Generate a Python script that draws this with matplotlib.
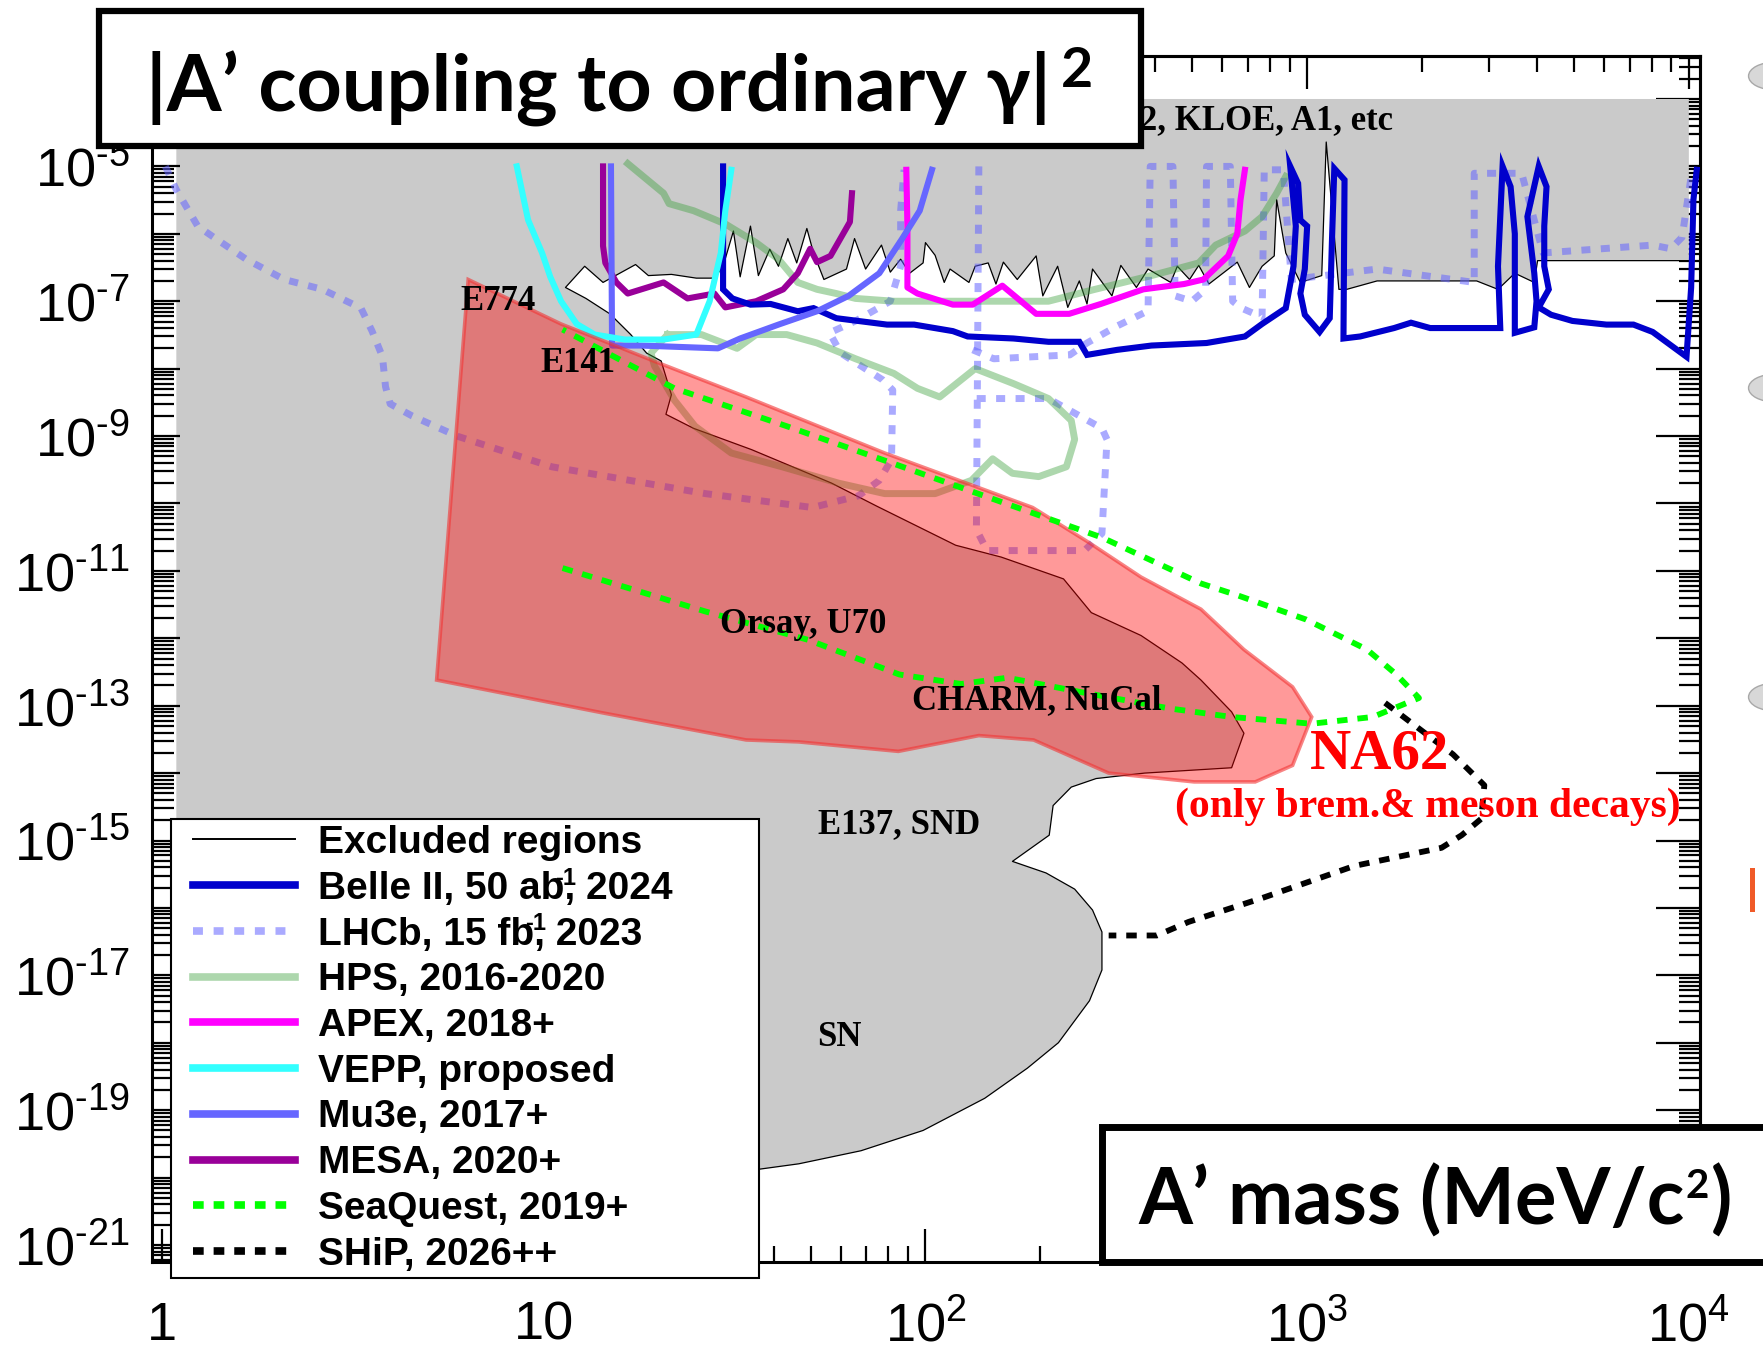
import numpy as np
import matplotlib
matplotlib.use("Agg")
import matplotlib.pyplot as plt
from matplotlib.lines import Line2D
from matplotlib.patches import Rectangle, Ellipse
from matplotlib.text import Annotation
from matplotlib.font_manager import FontProperties
from matplotlib.ticker import (FixedLocator, FixedFormatter, LogLocator,
                               FuncFormatter, NullFormatter)

SANS = ['Liberation Sans', 'DejaVu Sans']
SERIF = ['Liberation Serif', 'DejaVu Serif']
SLIDE = ['Lato', 'DejaVu Sans']
plt.rcParams['font.family'] = SANS

# ---------------------------------------------------------------- data
# (mass [MeV], eps^2) pairs

# lower edge of the already excluded (grey) area, right to left then down
excluded_edge = [
    (1.0e4, 4.0e-7), (4015, 4.0e-7), (3936, 1.9e-7), (3500, 2.6e-7), (3162, 1.5e-7),
    (2780, 2.0e-7), (1525, 2.0e-7), (1270, 1.5e-7), (1211, 1.5e-7), (1122, 2.3e-5),
    (1092, 2.4e-7), (960, 1.9e-7), (879, 5.2e-7), (832, 3.2e-6), (820, 4.7e-7),
    (762, 3.3e-7), (706, 1.6e-7), (656, 3.8e-7), (553, 1.8e-7), (520, 3.4e-7),
    (492, 2.1e-7), (457, 3.3e-7), (439, 1.9e-7), (383, 3.0e-7), (357, 1.6e-7),
    (325, 3.4e-7), (308, 1.2e-7), (274, 3.0e-7), (265, 9.1e-8), (253, 2.0e-7),
    (236, 8.1e-8), (222, 3.3e-7), (203, 1.2e-7), (195, 4.7e-7), (174, 2.1e-7),
    (160, 3.8e-7), (153, 1.8e-7), (146, 3.7e-7), (135, 3.3e-7), (130, 1.9e-7),
    (116, 3.0e-7), (112, 1.9e-7), (106, 4.8e-7), (100, 7.4e-7), (98.6, 3.7e-7),
    (90.9, 2.6e-7), (86.1, 4.2e-7), (80.9, 2.7e-7), (76.7, 6.8e-7), (69.7, 3.0e-7),
    (65.2, 8.5e-7), (62.1, 3.0e-7), (54.2, 2.1e-7), (50.9, 5.2e-7), (48.9, 1.2e-6),
    (46.0, 3.7e-7), (43.6, 8.5e-7), (41.2, 3.3e-7), (39.1, 5.9e-7), (36.5, 2.4e-7),
    (34.8, 1.3e-6), (32.7, 2.3e-7), (31.4, 1.1e-6), (29.5, 3.3e-7), (28.0, 2.2e-7),
    (25.1, 2.2e-7), (21.6, 2.5e-7), (18.8, 2.4e-7), (17.4, 3.5e-7), (14.3, 1.9e-7),
    (12.8, 3.3e-7), (11.4, 1.6e-7), (12.9, 1.1e-7), (14.9, 6.5e-8), (16.9, 3.2e-8),
    (18.6, 1.7e-8), (20.3, 1.3e-8), (21.6, 4.1e-9), (20.9, 2.1e-9), (24.7, 1.3e-9),
    (35.0, 6.3e-10), (56.8, 2.0e-10), (74.6, 9.1e-11), (120, 2.4e-11), (158, 1.6e-11),
    (230, 7.6e-12), (272, 2.4e-12), (367, 1.1e-12), (470, 4.3e-13), (527, 2.4e-13),
    (634, 8.1e-14), (683, 3.9e-14), (634, 1.2e-14), (375, 1.0e-14), (280, 8.3e-15),
    (241, 6.2e-15), (216, 3.3e-15), (211, 1.2e-15), (169, 4.9e-16), (207, 3.3e-16),
    (246, 1.9e-16), (274, 9.3e-17), (290, 4.4e-17), (290, 1.2e-17), (269, 4.2e-18),
    (223, 1.0e-18), (185, 4.2e-19), (143, 1.5e-19), (98.6, 5.0e-20), (67.8, 2.5e-20),
    (46.6, 1.6e-20), (28.7, 1.1e-20), (11.1, 4.2e-21), (2.84, 1.6e-21),
]
excl_left, excl_right = 1.09, 1.0e4
excl_top, excl_floor = 1.0e-4, 5.6e-22

belle = [
    (29.5, 1.0e-5), (29.5, 1.5e-7), (31.2, 1.1e-7), (34.8, 8.9e-8), (39.3, 9.1e-8),
    (46.3, 7.1e-8), (50.9, 7.9e-8), (58.4, 5.6e-8), (79.3, 4.5e-8), (93.4, 4.5e-8),
    (118, 3.6e-8), (129, 3.0e-8), (170, 2.8e-8), (210, 2.5e-8), (253, 2.5e-8),
    (265, 1.6e-8), (318, 1.9e-8), (391, 2.2e-8), (545, 2.4e-8), (687, 3.0e-8),
    (762, 4.6e-8), (879, 7.9e-8), (921, 3.3e-7), (934, 1.3e-6), (903, 1.0e-5),
    (947, 5.6e-6), (960, 1.6e-6), (1000, 1.3e-6), (986, 3.0e-7), (960, 1.3e-7),
    (986, 6.3e-8), (1078, 3.5e-8), (1146, 5.6e-8), (1161, 7.4e-7), (1178, 9.3e-6),
    (1253, 6.3e-6), (1245, 2.8e-8), (1377, 3.0e-8), (1690, 4.0e-8), (1871, 4.8e-8),
    (2100, 4.0e-8), (3206, 4.0e-8), (3162, 3.3e-7), (3251, 1.0e-5), (3412, 5.0e-6),
    (3500, 1.0e-6), (3500, 3.4e-8), (3936, 4.1e-8), (3990, 1.0e-7), (3936, 2.6e-7),
    (3776, 1.8e-6), (4043, 1.0e-5), (4238, 5.0e-6), (4180, 1.3e-6), (4180, 3.3e-7),
    (4296, 1.5e-7), (4043, 8.1e-8), (4355, 6.3e-8), (4955, 5.1e-8), (6081, 4.5e-8),
    (7160, 4.5e-8), (8040, 3.5e-8), (9860, 1.5e-8), (10140, 1.6e-7), (10280, 3.2e-6),
    (10490, 8.9e-6),
]

lhcb_prompt = [
    (1.02, 1.0e-5), (1.09, 4.5e-6), (1.24, 1.3e-6), (1.35, 9.3e-7), (1.66, 4.2e-7),
    (2.09, 2.1e-7), (2.63, 1.5e-7), (3.32, 7.9e-8), (3.55, 3.6e-8), (3.78, 1.5e-8),
    (3.85, 5.4e-9), (3.96, 3.0e-9), (4.51, 2.0e-9), (5.92, 1.0e-9), (10.5, 3.5e-10),
    (26.5, 1.4e-10), (50.6, 8.7e-11), (66.8, 1.3e-10), (75.7, 2.2e-10), (81.5, 4.5e-10),
    (82.1, 4.8e-9), (77.3, 6.8e-9), (60.0, 1.7e-8), (56.1, 3.4e-8), (65.6, 5.1e-8),
    (80.9, 1.0e-7), (86.1, 3.3e-7), (86.1, 2.2e-6), (87.9, 8.9e-6),
]
lhcb_displaced = [
    (138, 1.0e-5), (136, 4.1e-11), (145, 2.0e-11), (261, 2.0e-11), (290, 3.6e-11),
    (299, 8.9e-10), (290, 1.3e-9), (210, 3.6e-9), (173, 3.6e-9), (136, 3.6e-9),
]
lhcb_heavy = [
    (133, 1.9e-8), (151, 1.4e-8), (239, 1.6e-8), (265, 2.4e-8), (318, 4.3e-8),
    (383, 7.2e-8), (388, 1.0e-5), (445, 1.0e-5), (451, 1.2e-7), (499, 1.0e-7),
    (542, 1.5e-7), (545, 1.0e-5), (629, 1.0e-5), (638, 1.0e-7), (673, 7.9e-8),
    (762, 5.8e-8), (772, 8.9e-6), (866, 8.9e-6), (909, 2.1e-7), (1525, 3.0e-7),
    (2740, 1.9e-7), (2740, 7.9e-6), (3648, 7.9e-6), (4150, 5.2e-7), (8040, 6.8e-7),
    (8970, 6.0e-7), (9600, 8.9e-7), (10140, 7.1e-6),
]

hps_prompt = [
    (16.6, 1.1e-5), (20.6, 4.0e-6), (21.3, 2.8e-6), (24.7, 2.2e-6), (29.9, 1.4e-6),
    (36.0, 7.4e-7), (41.2, 4.2e-7), (46.3, 1.9e-7), (52.0, 1.5e-7), (58.4, 1.3e-7),
    (65.6, 1.1e-7), (82.6, 1.0e-7), (132, 1.0e-7), (210, 1.0e-7), (278, 1.5e-7),
    (391, 2.4e-7), (520, 3.7e-7), (576, 6.8e-7), (687, 1.1e-6), (762, 1.8e-6),
    (832, 4.0e-6), (879, 7.1e-6),
]
hps_vertex = [
    (21.1, 3.2e-8), (25.9, 3.2e-8), (32.1, 2.0e-8), (36.0, 3.2e-8), (43.3, 3.2e-8),
    (52.0, 2.4e-8), (65.6, 1.4e-8), (82.6, 8.5e-9), (95.3, 5.1e-9), (109, 3.8e-9),
    (135, 1.0e-8), (170, 6.0e-9), (210, 3.6e-9), (241, 1.7e-9), (246, 8.9e-10),
    (234, 3.5e-10), (198, 2.5e-10), (169, 2.8e-10), (150, 4.6e-10), (132, 2.2e-10),
    (106, 1.4e-10), (78.2, 1.4e-10), (59.2, 2.0e-10), (42.1, 3.5e-10), (31.0, 5.6e-10),
    (24.9, 1.4e-9), (22.0, 3.4e-9), (19.5, 1.1e-8), (19.1, 1.7e-8), (21.1, 3.2e-8),
]

apex = [
    (89.1, 8.9e-6), (89.7, 1.3e-6), (89.7, 1.6e-7), (95.3, 1.3e-7), (118, 8.9e-8),
    (133, 8.9e-8), (159, 1.7e-7), (195, 6.5e-8), (238, 6.5e-8), (288, 9.1e-8),
    (372, 1.5e-7), (476, 1.8e-7), (535, 2.1e-7), (621, 4.7e-7), (656, 1.0e-6),
    (669, 3.2e-6), (687, 8.9e-6),
]

vepp = [
    (8.5, 1.0e-5), (9.1, 1.6e-6), (9.9, 5.2e-7), (10.4, 2.3e-7), (11.1, 1.0e-7),
    (12.2, 4.6e-8), (13.6, 3.2e-8), (16.3, 2.7e-8), (20.6, 2.7e-8), (25.1, 3.2e-8),
    (27.2, 1.0e-7), (29.1, 5.2e-7), (29.9, 2.2e-6), (31.0, 8.9e-6),
]

mu3e = [
    (15.0, 1.0e-5), (15.1, 2.2e-8), (18.0, 2.2e-8), (28.6, 2.0e-8), (32.7, 2.8e-8),
    (41.2, 4.5e-8), (52.0, 7.1e-8), (62.9, 1.2e-7), (75.7, 2.6e-7), (86.7, 8.3e-7),
    (96.6, 2.2e-6), (104, 8.9e-6),
]

mesa = [
    (14.3, 1.0e-5), (14.3, 6.6e-7), (14.5, 3.7e-7), (15.5, 1.9e-7), (16.6, 1.3e-7),
    (20.6, 1.9e-7), (23.8, 1.1e-7), (28.0, 1.3e-7), (29.9, 8.1e-8), (36.0, 1.0e-7),
    (42.4, 1.5e-7), (46.3, 2.6e-7), (49.9, 6.0e-7), (52.0, 3.8e-7), (56.4, 4.7e-7),
    (63.4, 1.5e-6), (64.2, 4.0e-6),
]

seaquest = [
    (11.2, 1.1e-11), (26.5, 2.5e-12), (49.2, 9.5e-13), (85.5, 2.9e-13), (124, 2.1e-13),
    (164, 2.6e-13), (254, 1.6e-13), (436, 9.1e-14), (634, 6.8e-14), (1028, 5.4e-14),
    (1485, 6.8e-14), (1963, 1.3e-13), (1713, 2.9e-13), (1435, 6.8e-13), (993, 1.9e-12),
    (660, 4.3e-12), (527, 6.5e-12), (291, 3.1e-11), (191, 7.2e-11), (80.4, 4.1e-10),
    (43.3, 1.4e-9), (22.0, 5.1e-9), (11.2, 3.8e-8),
]

ship = [
    (1600, 1.1e-13), (2410, 1.9e-14), (2912, 6.6e-15), (2858, 2.1e-15), (2541, 1.2e-15),
    (2250, 7.8e-16), (1330, 4.2e-16), (762, 1.4e-16), (489, 6.2e-17), (404, 3.9e-17),
    (302, 3.9e-17),
]

na62 = [
    (6.34, 2.1e-7), (11.1, 4.6e-8), (19.4, 1.3e-8), (33.9, 3.8e-9), (78.2, 5.6e-10),
    (191, 8.7e-11), (269, 2.6e-11), (367, 8.1e-12), (527, 2.7e-12), (683, 6.8e-13),
    (916, 1.9e-13), (1028, 6.8e-14), (916, 1.3e-14), (731, 7.4e-15), (506, 7.4e-15),
    (302, 1.0e-14), (192, 3.1e-14), (138, 3.6e-14), (84.9, 2.1e-14), (46.6, 2.9e-14),
    (33.9, 3.1e-14), (14.3, 7.8e-14), (5.24, 2.4e-13),
]

# experiment labels: (text, mass, eps^2)
region_labels = [
    ("E774", 7.6, 1.0e-7),
    ("E141", 12.3, 1.2e-8),
    ("Orsay, U70", 47.9, 1.6e-12),
    ("CHARM, NuCal", 196, 1.2e-13),
    ("E137, SND", 85.5, 1.7e-15),
    ("SN", 59.6, 1.2e-18),
]

legend_labels = [
    "Excluded regions", "Belle II, 50 ab, 2024", "LHCb, 15 fb, 2023",
    "HPS, 2016-2020", "APEX, 2018+", "VEPP, proposed", "Mu3e, 2017+",
    "MESA, 2020+", "SeaQuest, 2019+", "SHiP, 2026++",
]
# inverse-luminosity units: (legend row, text before the exponent)
lumi_units = [(1, "Belle II, 50 ab"), (2, "LHCb, 15 fb")]

x_major = [1, 10, 100, 1000, 10000]
x_labels = ['1', '10', r'$\mathregular{10^{2}}$', r'$\mathregular{10^{3}}$',
            r'$\mathregular{10^{4}}$']
y_major_exp = list(range(-22, -3))
y_label_exp = [-5, -7, -9, -11, -13, -15, -17, -19, -21]

# colours
C_BELLE = '#0000cc'
C_LHCB = '#6464ff'
C_HPS = (0.24, 0.63, 0.24)
C_APEX = '#ff00ff'
C_VEPP = '#33ffff'
C_MU3E = '#6666ff'
C_MESA = '#990099'
C_SEAQ = '#00ff00'

# ---------------------------------------------------------------- figure
fig = plt.figure(figsize=(17.63, 13.53), dpi=100)
ax = fig.add_axes([0.0861, 0.0673, 0.8782, 0.8911])
ax.set_xscale('log')
ax.set_yscale('log')
ax.set_xlim(0.94, 10700)
ax.set_ylim(5.6e-22, 4.3e-4)


def unzip(pts):
    m, e = zip(*pts)
    return list(m), list(e)


def curve(pts, **kw):
    m, e = unzip(pts)
    return ax.plot(m, e, **kw)[0]


# excluded area
em, ee = unzip(excluded_edge)
ax.fill(em + [excl_left, excl_left, excl_right],
        ee + [excl_floor, excl_top, excl_top],
        color='#cacaca', lw=0, zorder=1)
ax.plot(em, ee, color='black', lw=0.9, zorder=2)

LW = 4.4
lhcb_kw = dict(color=C_LHCB, alpha=0.55, lw=5.0, linestyle=(0, (1.3, 1.5)),
               dash_capstyle='butt', zorder=3)
for piece in (lhcb_prompt, lhcb_displaced, lhcb_heavy):
    curve(piece, **lhcb_kw)
hps_kw = dict(color=C_HPS, alpha=0.42, lw=5.0, solid_joinstyle='round', zorder=3)
curve(hps_prompt, **hps_kw)
curve(hps_vertex, **hps_kw)
curve(belle, color=C_BELLE, lw=LW, solid_joinstyle='miter', zorder=3.5)
curve(apex, color=C_APEX, lw=LW, zorder=3.4)
curve(mesa, color=C_MESA, lw=LW, zorder=3.4)
curve(mu3e, color=C_MU3E, lw=LW, zorder=3.5)
curve(vepp, color=C_VEPP, lw=LW, zorder=3.6)

# NA62 projection
nm, ne = unzip(na62)
ax.fill(nm, ne, facecolor=(1, 0, 0, 0.4), edgecolor=(0.95, 0.2, 0.2, 0.6),
        lw=2.6, zorder=4)

dot_kw = dict(lw=4.2, linestyle=(0, (1.8, 1.7)), dash_capstyle='butt', zorder=5)
curve(seaquest, color=C_SEAQ, **dot_kw)
curve(ship, color='black', **dot_kw)

for txt, m, e in region_labels:
    ax.text(m, e, txt, family=SERIF, weight='bold', size=25, ha='center',
            va='center', zorder=6)
ax.text(1679, 4.7e-5, "g-2, KLOE, A1, etc", family=SERIF, weight='bold', size=25,
        ha='right', va='center', zorder=6)
ax.text(1546, 1.9e-14, "NA62", family=SERIF, weight='bold', size=41,
        color='#ff0000', ha='center', va='center', zorder=6)
ax.text(2074, 3.2e-15, "(only brem.& meson decays)", family=SERIF, weight='bold',
        size=30, color='#ff0000', ha='center', va='center', zorder=6)

# ---------------------------------------------------------------- axes
for s in ax.spines.values():
    s.set_linewidth(2.2)
minor_subs = np.arange(2, 10)
ax.xaxis.set_major_locator(FixedLocator(x_major))
ax.xaxis.set_minor_locator(LogLocator(base=10, subs=minor_subs, numticks=50))
ax.xaxis.set_major_formatter(FixedFormatter(x_labels))
ax.xaxis.set_minor_formatter(NullFormatter())
ax.yaxis.set_major_locator(FixedLocator([10.0 ** k for k in y_major_exp]))
ax.yaxis.set_minor_locator(LogLocator(base=10, subs=minor_subs, numticks=200))


def y_fmt(v, pos):
    k = int(round(np.log10(v)))
    if k in y_label_exp:
        return '$\\mathregular{10^{\u2010%d}}$' % (-k)
    return ''


ax.yaxis.set_major_formatter(FuncFormatter(y_fmt))
ax.yaxis.set_minor_formatter(NullFormatter())
ax.tick_params(which='both', direction='in', width=1.6, top=False, right=False)
ax.tick_params(axis='x', which='major', length=24, pad=28, labelsize=39)
ax.tick_params(axis='x', which='minor', length=11.5)
ax.tick_params(axis='y', which='major', length=20, pad=16, labelsize=39)
ax.tick_params(axis='y', which='minor', length=16)

secx = ax.secondary_xaxis('top')
secx.xaxis.set_major_locator(FixedLocator(x_major))
secx.xaxis.set_minor_locator(LogLocator(base=10, subs=minor_subs, numticks=50))
secx.xaxis.set_major_formatter(NullFormatter())
secx.xaxis.set_minor_formatter(NullFormatter())
secx.tick_params(which='both', direction='in', width=1.6, labeltop=False)
secx.tick_params(which='major', length=24)
secx.tick_params(which='minor', length=11.5)
secx.spines['top'].set_linewidth(2.2)

secy = ax.secondary_yaxis('right')
secy.yaxis.set_major_locator(FixedLocator([10.0 ** k for k in y_major_exp]))
secy.yaxis.set_minor_locator(LogLocator(base=10, subs=minor_subs, numticks=200))
secy.yaxis.set_major_formatter(NullFormatter())
secy.yaxis.set_minor_formatter(NullFormatter())
secy.tick_params(which='both', direction='in', width=1.6, labelright=False)
secy.tick_params(which='major', length=32)
secy.tick_params(which='minor', length=15)
secy.spines['right'].set_linewidth(2.2)

# ---------------------------------------------------------------- legend
handles = [
    Line2D([], [], color='black', lw=1.4),
    Line2D([], [], color=C_BELLE, lw=5.5),
    Line2D([], [], color=C_LHCB, alpha=0.55, lw=5.5, linestyle=(0, (1.3, 1.4)),
           dash_capstyle='butt'),
    Line2D([], [], color=C_HPS, alpha=0.42, lw=5.5),
    Line2D([], [], color=C_APEX, lw=5.5),
    Line2D([], [], color=C_VEPP, lw=5.5),
    Line2D([], [], color=C_MU3E, lw=5.5),
    Line2D([], [], color=C_MESA, lw=5.5),
    Line2D([], [], color=C_SEAQ, lw=5.5, linestyle=(0, (1.4, 1.3)), dash_capstyle='butt'),
    Line2D([], [], color='black', lw=5.5, linestyle=(0, (1.4, 1.3)), dash_capstyle='butt'),
]
fig.add_artist(Rectangle((0.0970, 0.0554), 0.3335, 0.3392, transform=fig.transFigure,
                         facecolor='white', edgecolor='black', lw=1.5, zorder=10))
leg_font = FontProperties(family=SANS, weight='bold', size=28)
leg = fig.legend(handles, legend_labels, loc='upper left',
                 bbox_to_anchor=(0.1095, 0.3902), frameon=False, borderpad=0,
                 borderaxespad=0, handlelength=2.62, handletextpad=0.6,
                 labelspacing=0.25, prop=leg_font)
leg.set_zorder(12)

# "-1" exponents squeezed in after the unit, as on the slide
renderer = fig.canvas.get_renderer()
for row, prefix in lumi_units:
    w_px, _, _ = renderer.get_text_width_height_descent(prefix, leg_font, ismath=False)
    w_pt = w_px * 72.0 / fig.dpi
    fig.add_artist(Annotation("\u2010" + "1", xy=(0, 1), xycoords=leg.get_texts()[row],
                              xytext=(w_pt - 7, 3), textcoords='offset points',
                              ha='left', va='top', family=SANS, weight='bold',
                              size=17, zorder=13))

# ---------------------------------------------------------------- slide boxes
fig.add_artist(Rectangle((0.0562, 0.8921), 0.591, 0.0998, transform=fig.transFigure,
                         facecolor='white', edgecolor='black', lw=4.5, zorder=10))
title = fig.text(0.0828, 0.9172, "|A\u2019 coupling to ordinary \u03b3|",
                 family=SLIDE, weight='bold', size=57, ha='left', va='baseline',
                 zorder=11)
fig.add_artist(Annotation("2", xy=(1, 1), xycoords=title, xytext=(7, 4),
                          textcoords='offset points', ha='left', va='top',
                          family=SLIDE, weight='bold', size=40, zorder=11))

fig.add_artist(Rectangle((0.6251, 0.0673), 0.40, 0.0998, transform=fig.transFigure,
                         facecolor='white', edgecolor='black', lw=5, zorder=10))
xlab = fig.text(0.6455, 0.0946, "A\u2019 mass (MeV/c", family=SLIDE, weight='bold',
                size=56, ha='left', va='baseline', zorder=11)
fig.add_artist(Annotation("2", xy=(1, 1), xycoords=xlab, xytext=(1, -2),
                          textcoords='offset points', ha='left', va='top',
                          family=SLIDE, weight='bold', size=29, zorder=11))
fig.add_artist(Annotation(")", xy=(1, 0), xycoords=xlab, xytext=(19, 0),
                          textcoords='offset points', ha='left', va='bottom',
                          family=SLIDE, weight='bold', size=56, zorder=11))

# bullet marks at the right margin
for yb in (0.9438, 0.7132, 0.4848):
    fig.add_artist(Ellipse((1.0068, yb), 0.0300, 0.0205, transform=fig.transFigure,
                           facecolor='#d8d8d8', edgecolor='#a8a8a8', lw=1, zorder=10))
fig.add_artist(Rectangle((0.9926, 0.326), 0.0028, 0.0325, transform=fig.transFigure,
                         facecolor='#f05a28', edgecolor='none', zorder=10))

fig.savefig("out.png", dpi=100)
